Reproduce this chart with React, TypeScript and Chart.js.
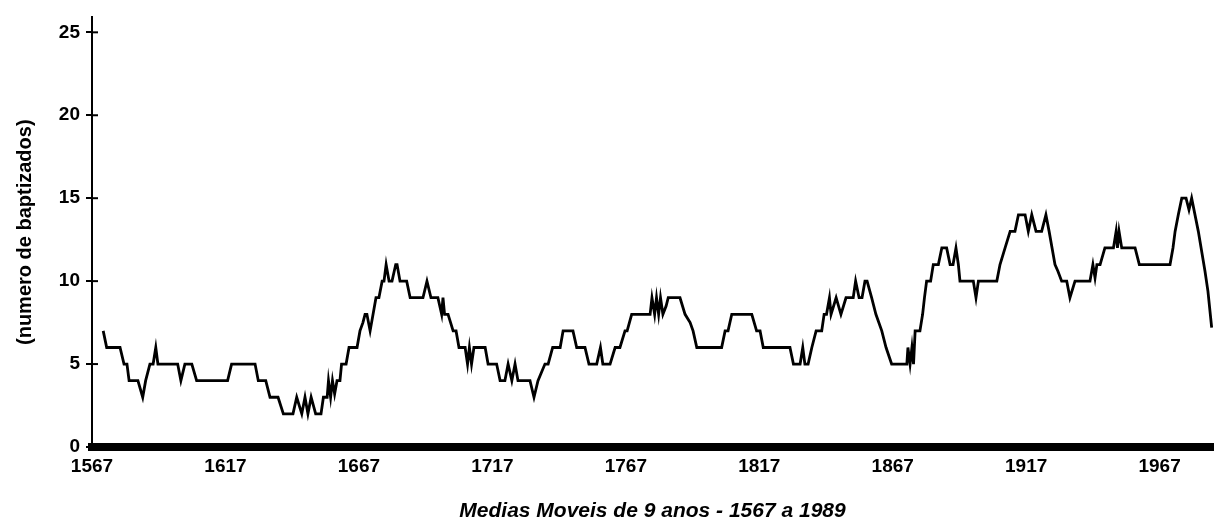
import React, { useEffect, useRef } from "react";
import { Chart, registerables } from "chart.js";

Chart.register(...registerables);

// Moving-average curve (x in years on the chart's scale)
const years = [
  1571.2, 1572.5, 1577.5, 1579.0, 1580.1, 1580.9, 1584.2, 1586.0, 1587.1, 1588.7,
  1589.9, 1590.9, 1591.7, 1599.1, 1600.3, 1601.8, 1604.4, 1606.2, 1617.8, 1619.3,
  1628.1, 1629.3, 1632.1, 1633.7, 1636.7, 1638.7, 1642.3, 1643.7, 1645.6, 1646.8,
  1647.9, 1649.1, 1650.8, 1652.8, 1653.7, 1655.1, 1655.6, 1656.4, 1657.1, 1657.9,
  1658.8, 1659.9, 1660.5, 1662.2, 1663.3, 1666.3, 1667.4, 1668.5, 1669.3, 1670.0,
  1671.2, 1673.4, 1674.5, 1675.7, 1676.4, 1677.2, 1678.3, 1679.4, 1680.8, 1681.3,
  1682.4, 1684.9, 1686.2, 1691.0, 1692.5, 1694.0, 1696.6, 1698.0, 1698.5, 1699.1,
  1700.4, 1702.3, 1703.4, 1704.5, 1706.8, 1707.7, 1708.4, 1709.2, 1710.1, 1714.3,
  1715.4, 1718.6, 1719.9, 1721.7, 1722.9, 1724.3, 1725.5, 1726.6, 1731.1, 1732.6,
  1734.1, 1736.7, 1737.9, 1739.6, 1742.4, 1743.5, 1747.2, 1748.6, 1751.7, 1753.2,
  1756.1, 1757.5, 1758.4, 1761.1, 1763.0, 1764.8, 1766.7, 1767.5, 1769.2, 1776.1,
  1776.8, 1777.8, 1778.5, 1779.3, 1780.0, 1780.9, 1782.1, 1782.9, 1787.3, 1789.2,
  1791.1, 1792.2, 1793.6, 1802.9, 1804.2, 1805.3, 1806.7, 1814.2, 1816.0, 1817.3,
  1818.5, 1828.5, 1829.8, 1832.3, 1833.3, 1834.1, 1835.3, 1836.7, 1838.3, 1840.4,
  1841.3, 1842.2, 1843.3, 1843.9, 1845.8, 1847.6, 1849.5, 1852.2, 1853.1, 1854.4,
  1855.5, 1856.6, 1857.4, 1859.1, 1860.7, 1862.9, 1864.5, 1866.6, 1872.3, 1872.7,
  1873.5, 1874.2, 1874.8, 1875.4, 1877.2, 1878.2, 1878.9, 1879.7, 1881.2, 1882.2,
  1884.1, 1885.4, 1887.2, 1888.5, 1889.6, 1890.7, 1891.6, 1892.2, 1897.2, 1898.2,
  1899.1, 1906.0, 1907.2, 1909.1, 1911.0, 1912.8, 1914.1, 1916.6, 1917.8, 1919.1,
  1920.7, 1922.8, 1924.4, 1925.6, 1926.7, 1927.8, 1928.9, 1930.3, 1932.2, 1933.4,
  1935.3, 1940.9, 1942.0, 1942.8, 1943.5, 1944.7, 1946.5, 1949.7, 1950.7, 1951.2,
  1951.8, 1952.8, 1957.8, 1959.4, 1970.9, 1972.0, 1972.8, 1974.0, 1975.3, 1976.9,
  1978.0, 1979.0, 1981.5, 1984.0, 1985.1, 1986.5,
];

const values = [
  7, 6, 6, 5, 5, 4, 4, 3, 4, 5,
  5, 6, 5, 5, 4, 5, 5, 4, 4, 5,
  5, 4, 4, 3, 3, 2, 2, 3, 2, 3,
  2, 3, 2, 2, 3, 3, 4, 3, 4, 3.2,
  4, 4, 5, 5, 6, 6, 7, 7.5, 8, 8,
  7, 9, 9, 10, 10, 11, 10, 10, 11, 11,
  10, 10, 9, 9, 10, 9, 9, 8, 9, 8,
  8, 7, 7, 6, 6, 5, 6, 5, 6, 6,
  5, 5, 4, 4, 5, 4, 5, 4, 4, 3,
  4, 5, 5, 6, 6, 7, 7, 6, 6, 5,
  5, 6, 5, 5, 6, 6, 7, 7, 8, 8,
  9, 8, 9, 8, 9, 8, 8.5, 9, 9, 8,
  7.5, 7, 6, 6, 7, 7, 8, 8, 7, 7,
  6, 6, 5, 5, 6, 5, 5, 6, 7, 7,
  8, 8, 9, 8, 9, 8, 9, 9, 10, 9,
  9, 10, 10, 9, 8, 7, 6, 5, 5, 6,
  5, 6, 5, 7, 7, 8, 9, 10, 10, 11,
  11, 12, 12, 11, 11, 12, 11, 10, 10, 9,
  10, 10, 11, 12, 13, 13, 14, 14, 13, 14,
  13, 13, 14, 13, 12, 11, 10.6, 10, 10, 9,
  10, 10, 11, 10.2, 11, 11, 12, 12, 13, 12,
  13, 12, 12, 11, 11, 12, 13, 14, 15, 15,
  14.3, 15, 13, 10.6, 9.4, 7.2,
];

const xTickYears = [1567, 1617, 1667, 1717, 1767, 1817, 1867, 1917, 1967];
const yTickValues = [0, 5, 10, 15, 20, 25];
const yTitle = "(numero de baptizados)";
const xTitle = "Medias Moveis de 9 anos - 1567 a 1989";

const FONT = "'Liberation Sans', Arial, Helvetica, sans-serif";

export default function App() {
  const ref = useRef<HTMLCanvasElement>(null);

  useEffect(() => {
    document.body.style.margin = "0";
    if (!ref.current) return;

    const crossTicks = {
      id: "crossTicks",
      afterDraw(chart: any) {
        const y = chart.scales.y;
        const ctx = chart.ctx;
        const left = chart.chartArea.left;
        ctx.save();
        ctx.strokeStyle = "#000";
        ctx.lineWidth = 2;
        yTickValues.forEach((v) => {
          const py = y.getPixelForValue(v);
          ctx.beginPath();
          ctx.moveTo(left, py);
          ctx.lineTo(left + 6, py);
          ctx.stroke();
        });
        ctx.restore();
      },
    };

    const chart = new Chart(ref.current, {
      type: "line",
      data: {
        datasets: [
          {
            data: years.map((x, i) => ({ x, y: values[i] })),
            borderColor: "#000",
            borderWidth: 2.8,
            pointRadius: 0,
            tension: 0,
            fill: false,
          },
        ],
      },
      options: {
        responsive: false,
        animation: false,
        layout: { padding: { left: 0, right: 3, top: 14, bottom: 0 } },
        plugins: {
          legend: { display: false },
          tooltip: { enabled: false },
        },
        scales: {
          x: {
            type: "linear",
            min: 1567,
            max: 1987,
            afterBuildTicks: (s: any) => {
              s.ticks = xTickYears.map((v) => ({ value: v }));
            },
            afterFit: (s: any) => {
              s.height = 85;
            },
            grid: { display: false, drawTicks: false },
            border: { display: true, width: 8, color: "#000" },
            ticks: {
              padding: 8,
              color: "#000",
              autoSkip: false,
              maxRotation: 0,
              font: { family: FONT, size: 19, weight: "bold" },
              callback: (v: any) => String(v),
            },
            title: {
              display: true,
              text: xTitle,
              color: "#000",
              font: { family: FONT, size: 21, weight: "bold", style: "italic" },
              padding: { top: 0, bottom: 8 },
            },
          },
          y: {
            type: "linear",
            min: 0,
            max: 25.9,
            afterBuildTicks: (s: any) => {
              s.ticks = yTickValues.map((v) => ({ value: v }));
            },
            afterFit: (s: any) => {
              s.width = 92;
            },
            grid: {
              display: true,
              drawOnChartArea: false,
              drawTicks: true,
              tickLength: 6,
              color: "#000",
              lineWidth: 2,
            },
            border: { display: true, width: 2, color: "#000" },
            ticks: {
              padding: 6,
              color: "#000",
              font: { family: FONT, size: 19, weight: "bold" },
            },
            title: {
              display: true,
              text: yTitle,
              color: "#000",
              font: { family: FONT, size: 20, weight: "bold" },
              padding: { top: 13, bottom: 0 },
            },
          },
        },
      } as any,
      plugins: [crossTicks],
    });

    return () => chart.destroy();
  }, []);

  return (
    <div style={{ width: 1216, height: 532 }}>
      <canvas ref={ref} width={1216} height={532} style={{ display: "block" }} />
    </div>
  );
}
